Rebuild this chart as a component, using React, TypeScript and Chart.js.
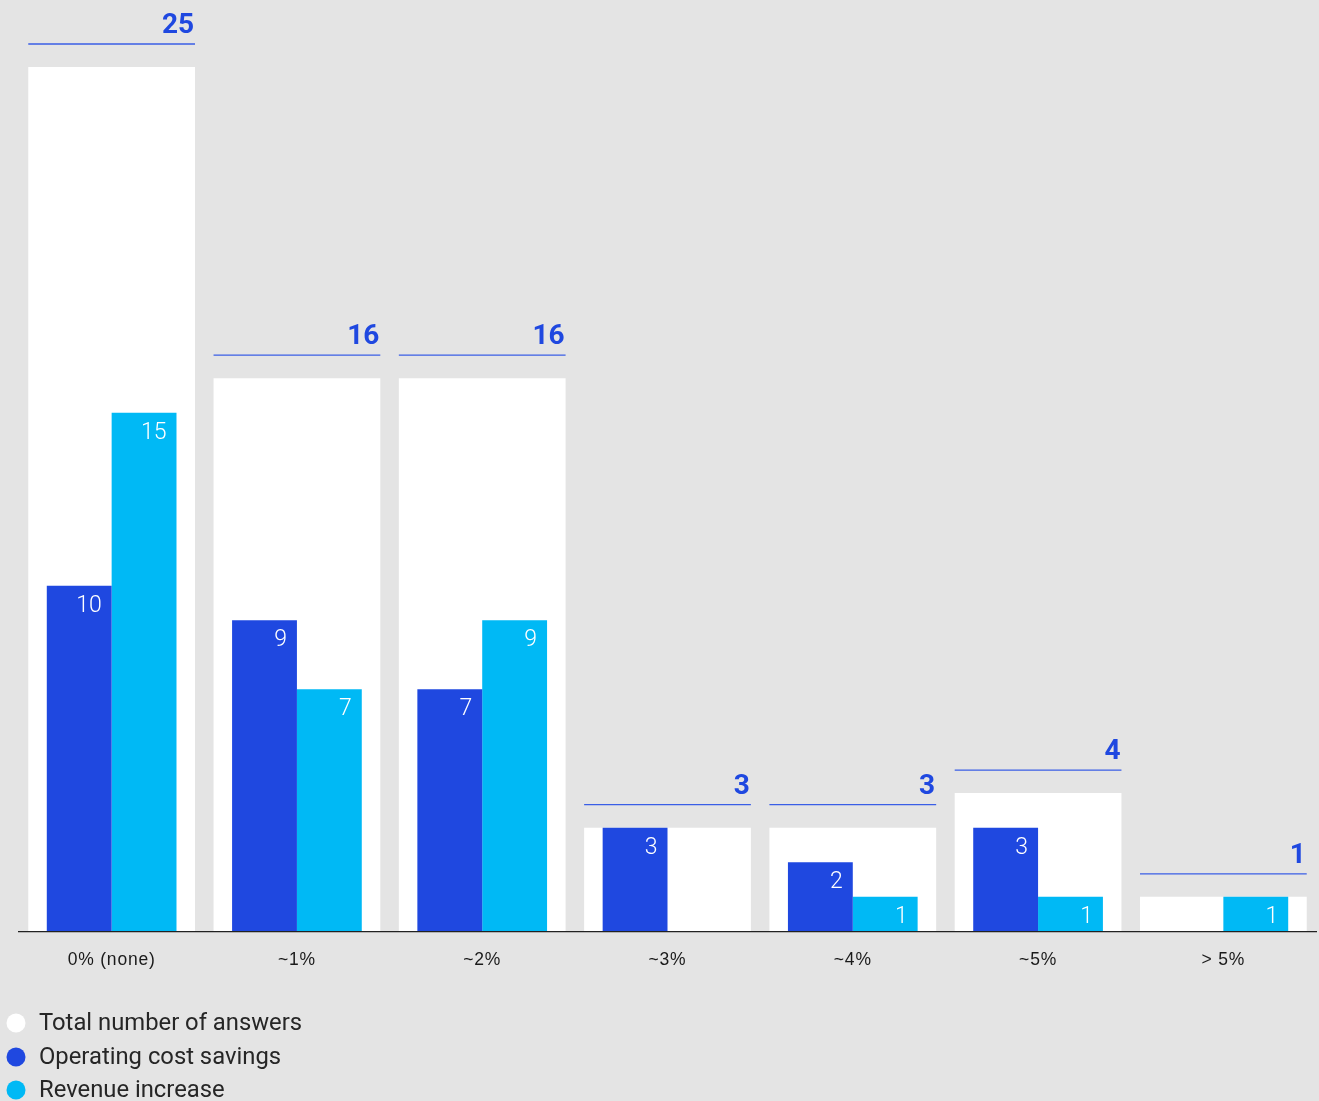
import React, { useEffect, useRef } from "react";
import { Chart, registerables } from "chart.js";

Chart.register(...registerables);

const categories = ["0% (none)", "~1%", "~2%", "~3%", "~4%", "~5%", "> 5%"];
const totalAnswers = [25, 16, 16, 3, 3, 4, 1];
const operatingCostSavings = [10, 9, 7, 3, 2, 3, 0];
const revenueIncrease = [15, 7, 9, 0, 1, 1, 1];
const seriesLabels = ["Total number of answers", "Operating cost savings", "Revenue increase"];

const BG = "#e4e4e4";
const BLUE = "#1f48e0";
const CYAN = "#00b9f5";
const WHITE = "#ffffff";
const FONT = "Roboto, 'Liberation Sans', Arial, sans-serif";

const labelsPlugin = {
  id: "customLabels",
  beforeDraw(chart: any) {
    chart.ctx.letterSpacing = "0.8px";
  },
  afterDatasetsDraw(chart: any) {
    const ctx = chart.ctx;
    ctx.save();
    ctx.letterSpacing = "0px";
    const totalMeta = chart.getDatasetMeta(0);
    totalMeta.data.forEach((bar: any, i: number) => {
      const v = chart.data.datasets[0].data[i];
      const left = bar.x - bar.width / 2;
      const right = bar.x + bar.width / 2;
      const lineY = bar.y - 23;
      ctx.strokeStyle = "#3a5ee6";
      ctx.lineWidth = 1.3;
      ctx.beginPath();
      ctx.moveTo(left, lineY);
      ctx.lineTo(right, lineY);
      ctx.stroke();
      ctx.fillStyle = BLUE;
      ctx.font = `bold 28px ${FONT}`;
      ctx.textAlign = "right";
      ctx.textBaseline = "alphabetic";
      ctx.fillText(String(v), right - 1, lineY - 11);
    });
    [1, 2].forEach((di) => {
      const meta = chart.getDatasetMeta(di);
      meta.data.forEach((bar: any, i: number) => {
        const v = chart.data.datasets[di].data[i];
        if (!v) return;
        const right = bar.x + bar.width / 2;
        ctx.fillStyle = WHITE;
        ctx.font = `300 23px ${FONT}`;
        ctx.textAlign = "right";
        ctx.textBaseline = "alphabetic";
        ctx.fillText(String(v), right - 10, bar.y + 26);
      });
    });
    ctx.restore();
  },
  afterDraw(chart: any) {
    const ctx = chart.ctx;
    ctx.save();
    ctx.letterSpacing = "0px";
    const colors = [WHITE, BLUE, CYAN];
    const rows = [1023, 1057, 1090];
    seriesLabels.forEach((lab, i) => {
      ctx.fillStyle = colors[i];
      ctx.beginPath();
      ctx.arc(16, rows[i], 9.5, 0, Math.PI * 2);
      ctx.fill();
      ctx.fillStyle = "#262626";
      ctx.font = `23.8px ${FONT}`;
      ctx.textAlign = "left";
      ctx.textBaseline = "middle";
      ctx.fillText(lab, 39, rows[i] + 1);
    });
    ctx.restore();
    chart.ctx.letterSpacing = "0px";
  },
};

export default function App() {
  const ref = useRef<HTMLCanvasElement | null>(null);
  useEffect(() => {
    if (!ref.current) return;
    const chart = new Chart(ref.current, {
      type: "bar",
      data: {
        labels: categories,
        datasets: [
          {
            label: seriesLabels[0],
            data: totalAnswers,
            backgroundColor: WHITE,
            grouped: false,
            categoryPercentage: 0.9,
            barPercentage: 1,
            order: 2,
          } as any,
          {
            label: seriesLabels[1],
            data: operatingCostSavings,
            backgroundColor: BLUE,
            categoryPercentage: 0.7,
            barPercentage: 1,
            order: 1,
          },
          {
            label: seriesLabels[2],
            data: revenueIncrease,
            backgroundColor: CYAN,
            categoryPercentage: 0.7,
            barPercentage: 1,
            order: 1,
          },
        ],
      },
      options: {
        animation: false,
        responsive: false,
        maintainAspectRatio: false,
        layout: { padding: { top: 67, left: 19, right: 3, bottom: 112.6 } },
        plugins: {
          legend: { display: false },
          tooltip: { enabled: false },
        },
        scales: {
          x: {
            z: 1,
            grid: { display: false, drawTicks: false },
            border: { display: true, color: "#222", width: 1.2, z: 1 } as any,
            ticks: {
              color: "#1a1a1a",
              font: { family: "'Liberation Sans', Arial, sans-serif", size: 17.5 },
              padding: 18,
            },
          },
          y: {
            display: false,
            min: 0,
            max: 25,
          },
        },
      },
      plugins: [labelsPlugin],
    });
    return () => chart.destroy();
  }, []);
  return (
    <div style={{ position: "fixed", inset: 0, background: BG }}>
      <canvas ref={ref} width={1319} height={1101} style={{ position: "absolute", left: 0, top: 0 }} />
    </div>
  );
}
